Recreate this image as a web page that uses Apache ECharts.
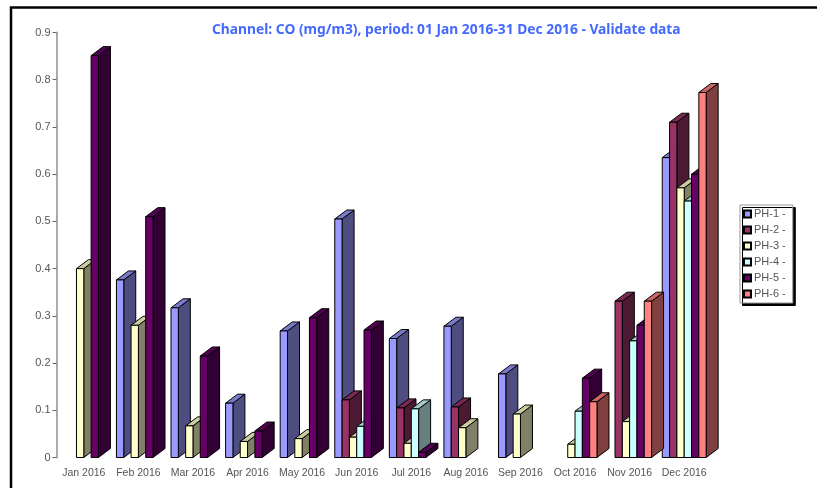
<!DOCTYPE html>
<html><head><meta charset="utf-8">
<style>html,body{margin:0;padding:0;background:#fff;overflow:hidden}#c{width:817px;height:488px;filter:blur(0.4px)}</style>
<script src="https://cdn.jsdelivr.net/npm/echarts@6/dist/echarts.min.js"></script>
</head><body><div id="c"></div>
<script>
const categories = ['Jan 2016','Feb 2016','Mar 2016','Apr 2016','May 2016','Jun 2016','Jul 2016','Aug 2016','Sep 2016','Oct 2016','Nov 2016','Dec 2016'];
const ph1 = [null,0.376,0.317,0.115,0.268,0.505,0.252,0.278,0.177,null,null,0.635];
const ph2 = [null,null,null,null,null,0.122,0.105,0.107,null,null,0.331,0.71];
const ph3 = [0.40,0.28,0.067,0.034,0.04,0.043,0.03,0.063,0.092,0.028,0.076,0.571];
const ph4 = [null,null,null,null,null,0.066,0.103,null,null,0.098,0.247,0.543];
const ph5 = [0.851,0.51,0.215,0.056,0.296,0.27,0.011,null,null,0.168,0.28,0.60];
const ph6 = [null,null,null,null,null,null,null,null,null,0.118,0.331,0.773];
const seriesNames = ['PH-1 -','PH-2 -','PH-3 -','PH-4 -','PH-5 -','PH-6 -'];
const seriesValues = [ph1,ph2,ph3,ph4,ph5,ph6];
const frontColors = ['#9999ff','#993366','#ffffcc','#ccffff','#660066','#ff8080'];
const sideColors = ['#4d4d80','#4d1a33','#808066','#668080','#330033','#804040'];
const topColors = ['#7a7acc','#7a2952','#cccca3','#a3cccc','#520052','#cc6666'];
const titleText = 'Channel: CO (mg/m3), period: 01 Jan 2016-31 Dec 2016 - Validate data';
const DEPTH_X = 12, DEPTH_Y = 9, SLOT_SHARE = 0.134;

function renderBar(s){
  return function(params, api){
    const v = api.value(1);
    if (v === null || isNaN(v)) return;
    const base = api.coord([api.value(0), 0]);
    const top = api.coord([api.value(0), v]);
    const w = api.size([1,0])[0] * SLOT_SHARE;
    const x0 = base[0] + (s - 3) * w, x1 = x0 + w, y0 = base[1], y1 = top[1];
    const line = {stroke:'#000', lineWidth:1, lineJoin:'miter'};
    return {type:'group', children:[
      {type:'polygon', shape:{points:[[x1,y0],[x1+DEPTH_X,y0-DEPTH_Y],[x1+DEPTH_X,y1-DEPTH_Y],[x1,y1]]},
        style:Object.assign({fill:sideColors[s]},line)},
      {type:'polygon', shape:{points:[[x0,y1],[x0+DEPTH_X,y1-DEPTH_Y],[x1+DEPTH_X,y1-DEPTH_Y],[x1,y1]]},
        style:Object.assign({fill:topColors[s]},line)},
      {type:'rect', shape:{x:x0,y:y1,width:w,height:y0-y1},
        style:Object.assign({fill:frontColors[s]},line)}
    ]};
  };
}

const chart = echarts.init(document.getElementById('c'), null, {renderer:'canvas'});
chart.setOption({
  animation:false,
  backgroundColor:'#fff',
  textStyle:{fontFamily:'"Liberation Sans", Arial, sans-serif'},
  title:{text:titleText,left:207,top:18,
    textStyle:{color:'#4469ff',fontSize:13.8,fontWeight:'bold',fontFamily:'"Noto Sans", sans-serif'}},
  grid:{left:56.5,right:105.5,top:32.5,bottom:30.5,containLabel:false},
  legend:{orient:'vertical',left:740,top:205,
    padding:[3.5,7,3.5,3],itemWidth:7,itemHeight:7,itemGap:5,
    backgroundColor:'#fff',borderColor:'#999',borderWidth:1,
    shadowColor:'#000',shadowBlur:0,shadowOffsetX:2.5,shadowOffsetY:2.5,
    textStyle:{color:'#555',fontSize:11,padding:[0,0,0,-2]},
    data:seriesNames,icon:'rect'},
  xAxis:{type:'category',data:categories,boundaryGap:true,
    axisLine:{show:false},axisTick:{show:false},
    axisLabel:{color:'#555',fontSize:10.5,margin:10,interval:0}},
  yAxis:{type:'value',min:0,max:0.9,interval:0.1,
    axisLine:{show:true,lineStyle:{color:'#aaa',width:2}},
    axisTick:{show:true,length:4,lineStyle:{color:'#666',width:1}},
    axisLabel:{color:'#555',fontSize:11,margin:6},
    splitLine:{show:false}},
  graphic:[{type:'polyline',silent:true,z:-1,
    shape:{points:[[11,488],[11,7.5],[817,7.5]]},
    style:{fill:'none',stroke:'#000',lineWidth:2.5}}],
  series:seriesNames.map((n,s)=>({
    name:n,type:'custom',clip:false,
    itemStyle:{color:frontColors[s],borderColor:'#000',borderWidth:1},
    encode:{x:0,y:1},
    data:seriesValues[s].map((v,i)=>[i,v]),
    renderItem:renderBar(s)
  }))
});
</script></body></html>
